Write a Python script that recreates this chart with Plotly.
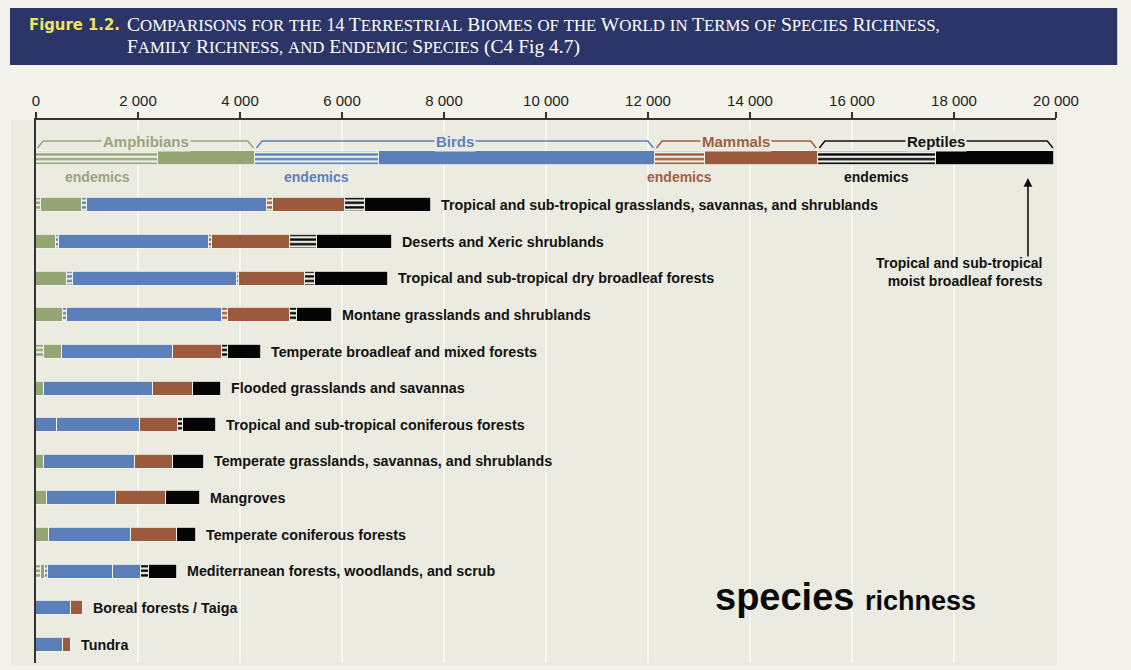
import plotly.graph_objects as go

# ---------------- data ----------------
biomes = [
    "Tropical and sub-tropical grasslands, savannas, and shrublands",
    "Deserts and Xeric shrublands",
    "Tropical and sub-tropical dry broadleaf forests",
    "Montane grasslands and shrublands",
    "Temperate broadleaf and mixed forests",
    "Flooded grasslands and savannas",
    "Tropical and sub-tropical coniferous forests",
    "Temperate grasslands, savannas, and shrublands",
    "Mangroves",
    "Temperate coniferous forests",
    "Mediterranean forests, woodlands, and scrub",
    "Boreal forests / Taiga",
    "Tundra",
]
amphibians = [896, 392, 601, 536, 503, 157, 418, 157, 222, 261, 176, 0, 0]
amphibians_end = [100, 0, 0, 0, 150, 0, 0, 0, 0, 0, 100, 0, 0]
birds = [3627, 3006, 3334, 3117, 2177, 2131, 1621, 1784, 1347, 1602, 1340, 680, 523]
birds_end = [110, 60, 120, 80, 0, 0, 0, 0, 0, 0, 50, 0, 0]
mammals = [1536, 1582, 1340, 1327, 961, 784, 751, 739, 980, 895, 536, 248, 157]
mammals_end = [120, 60, 40, 110, 0, 0, 0, 0, 0, 0, 0, 0, 0]
reptiles = [1680, 2006, 1633, 817, 765, 555, 739, 614, 667, 379, 713, 0, 0]
reptiles_end = [400, 520, 200, 130, 130, 0, 100, 0, 0, 0, 170, 0, 0]

top_biome = "Tropical and sub-tropical moist broadleaf forests"
taxa = ["Amphibians", "Birds", "Mammals", "Reptiles"]
top_total = [4294, 7843, 3192, 4641]
top_endemic = [2400, 2423, 973, 2314]

tick_vals = [0, 2000, 4000, 6000, 8000, 10000, 12000, 14000, 16000, 18000, 20000]
tick_text = ["0", "2 000", "4 000", "6 000", "8 000", "10 000", "12 000",
             "14 000", "16 000", "18 000", "20 000"]

# ---------------- styling ----------------
COL = {"Amphibians": "#93a674", "Birds": "#5b80b9", "Mammals": "#9b5a3b", "Reptiles": "#050505"}
TXT = {"Amphibians": "#98a57c", "Birds": "#5c80bf", "Mammals": "#a0603f", "Reptiles": "#111111"}
PAGE = "#f3f3eb"
PANEL = "#ecebe2"
STRIPE_BG = "#eef0ea"
FONT = "Liberation Sans, Arial, sans-serif"

# a few biomes drawn in a different colour in the original
override = {("Amphibians", "Tropical and sub-tropical coniferous forests"): COL["Birds"],
            ("Mammals", "Mediterranean forests, woodlands, and scrub"): COL["Birds"]}

series = {
    "Amphibians": (amphibians, amphibians_end),
    "Birds": (birds, birds_end),
    "Mammals": (mammals, mammals_end),
    "Reptiles": (reptiles, reptiles_end),
}

BW = 0.382
fig = go.Figure()


def stripes(c):
    return dict(shape="-", fgcolor=c, bgcolor=STRIPE_BG, size=4.6, solidity=0.5, fillmode="replace")


# biome bars
for t in taxa:
    tot, end = series[t]
    rest = [a - b for a, b in zip(tot, end)]
    cols = [override.get((t, b), COL[t]) for b in biomes]
    fig.add_trace(go.Bar(
        y=biomes, x=end, orientation="h", width=BW, yaxis="y", xaxis="x",
        marker=dict(color=cols, pattern=stripes(COL[t]), line=dict(color="#f4f4ee", width=0.8)),
        showlegend=False, hoverinfo="skip"))
    fig.add_trace(go.Bar(
        y=biomes, x=rest, orientation="h", width=BW, yaxis="y", xaxis="x",
        marker=dict(color=cols, line=dict(color="#f4f4ee", width=0.8)),
        showlegend=False, hoverinfo="skip"))

# top bar (moist broadleaf forests)
for t, tt, te in zip(taxa, top_total, top_endemic):
    fig.add_trace(go.Bar(
        y=[top_biome], x=[te], orientation="h", width=BW, yaxis="y2", xaxis="x",
        marker=dict(color=COL[t], pattern=stripes(COL[t]), line=dict(color="#f4f4ee", width=0.8)),
        showlegend=False, hoverinfo="skip"))
    fig.add_trace(go.Bar(
        y=[top_biome], x=[tt - te], orientation="h", width=BW, yaxis="y2", xaxis="x",
        marker=dict(color=COL[t], line=dict(color="#f4f4ee", width=0.8)),
        showlegend=False, hoverinfo="skip"))

annotations = []
shapes = []

# biome labels
totals = [sum(v) for v in zip(amphibians, birds, mammals, reptiles)]
for b, tot in zip(biomes, totals):
    annotations.append(dict(x=tot, y=b, xref="x", yref="y", text=b, showarrow=False,
                            xanchor="left", yanchor="middle", xshift=8,
                            font=dict(family=FONT, size=14.3, color="#111", weight="bold")))

# taxon brackets + labels on top bar
Y_BR = 0.4635
Y_HOOK = 0.2725
Y_END = -0.52
start = 0
for t, tt, te in zip(taxa, top_total, top_endemic):
    x0 = start + 30
    x1 = start + tt - 30
    h = 110
    shapes.append(dict(type="path", xref="x", yref="y2",
                       path=f"M {x0},{Y_HOOK} L {x0 + h},{Y_BR} L {x1 - h},{Y_BR} L {x1},{Y_HOOK}",
                       line=dict(color=TXT[t], width=1.5)))
    annotations.append(dict(x=start + tt / 2, y=Y_BR, xref="x", yref="y2", text=t,
                            showarrow=False, bgcolor=PANEL, borderpad=1, yanchor="middle",
                            font=dict(family=FONT, size=15, color=TXT[t], weight="bold")))
    annotations.append(dict(x=start + te / 2, y=Y_END, xref="x", yref="y2", text="endemics",
                            showarrow=False, yanchor="middle",
                            font=dict(family=FONT, size=14, color=TXT[t], weight="bold")))
    start += tt

# arrow pointing to top bar
annotations.append(dict(x=sum(top_total) - 520, y=0.8932, xref="x", yref="paper", text="",
                        showarrow=True, arrowhead=2, arrowsize=1.1, arrowwidth=1.6,
                        arrowcolor="#111", ax=0, ay=80))
annotations.append(dict(x=0.9892, y=0.72, xref="paper", yref="paper",
                        text="Tropical and sub-tropical<br>moist broadleaf forests",
                        showarrow=False, xanchor="right", yanchor="middle", align="right",
                        font=dict(family=FONT, size=14, color="#111", weight="bold")))

# species richness
annotations.append(dict(x=0.6637, y=0.1215, xref="paper", yref="paper",
                        text="species <span style='font-size:27px'>richness</span>",
                        showarrow=False, xanchor="left", yanchor="middle",
                        font=dict(family=FONT, size=38, color="#0a0a0a", weight="bold")))

# header band + panel
shapes.append(dict(type="rect", xref="paper", yref="paper", x0=-0.0255, x1=1.06,
                   y0=1.1013, y1=1.2063, fillcolor="#2c3567", line=dict(width=0), layer="below"))
shapes.append(dict(type="rect", xref="paper", yref="paper", x0=-0.0245, x1=1.001,
                   y0=-0.004, y1=1.0, fillcolor=PANEL, line=dict(width=0), layer="below"))


def sc(text, small=16.8):
    out = []
    for w in text.split(" "):
        if w and w[0].isupper():
            out.append(w[0] + (f"<span style='font-size:{small}px'>{w[1:].upper()}</span>" if len(w) > 1 else ""))
        elif w and w[0].isdigit():
            out.append(f"<span style='font-size:{small + 1}px'>{w}</span>")
        else:
            out.append(f"<span style='font-size:{small}px'>{w.upper()}</span>")
    return " ".join(out)


line1 = sc("Comparisons for the 14 Terrestrial Biomes of the World in Terms of Species Richness,")
line2 = sc("Family Richness, and Endemic Species") + " (C4 Fig 4.7)"
annotations.append(dict(x=-0.0088, y=(663 - 25) / 543, xref="paper", yref="paper", text="Figure 1.2.",
                        showarrow=False, xanchor="left", yanchor="middle",
                        font=dict(family="DejaVu Sans Condensed, Liberation Sans Narrow, sans-serif",
                                  size=16.5, color="#eee35c", weight="bold")))
for txt, ypx in ((line1, 25), (line2, 47)):
    annotations.append(dict(x=0.0873, y=(663 - ypx) / 543, xref="paper", yref="paper",
                            text=txt, showarrow=False, xanchor="left", yanchor="middle", align="left",
                            font=dict(family="Liberation Serif, DejaVu Serif, serif", size=19.5,
                                      color="#ffffff")))

top_frac = 0.8772
fig.update_layout(
    width=1131, height=670,
    margin=dict(l=36, r=75, t=120, b=7),
    paper_bgcolor=PAGE, plot_bgcolor=PANEL,
    barmode="stack", bargap=0,
    showlegend=False,
    xaxis=dict(range=[0, 20000], side="top", anchor="y2", tickvals=tick_vals, ticktext=tick_text,
               ticks="outside", ticklen=6, tickwidth=1.5, tickcolor="#333",
               showline=True, linecolor="#333", linewidth=1.5, zeroline=False,
               showgrid=True, gridcolor="#f7f7f1", gridwidth=1.5,
               tickfont=dict(family=FONT, size=15, color="#222")),
    yaxis=dict(domain=[0, top_frac], type="category", categoryorder="array", categoryarray=biomes,
               range=[12.5, -0.5], showticklabels=False, showline=True, linecolor="#333",
               linewidth=1.5, showgrid=False, zeroline=False, ticks=""),
    yaxis2=dict(domain=[top_frac, 1], type="category", range=[-0.782, 1.036],
                showticklabels=False, showline=True, linecolor="#333", linewidth=1.5,
                showgrid=False, zeroline=False, ticks=""),
    annotations=annotations,
    shapes=shapes,
)

fig.write_html("out.html", config={"displayModeBar": False},
               post_script="document.body.style.margin='0';document.body.style.padding='0';"
                           "document.body.style.overflow='hidden';")
